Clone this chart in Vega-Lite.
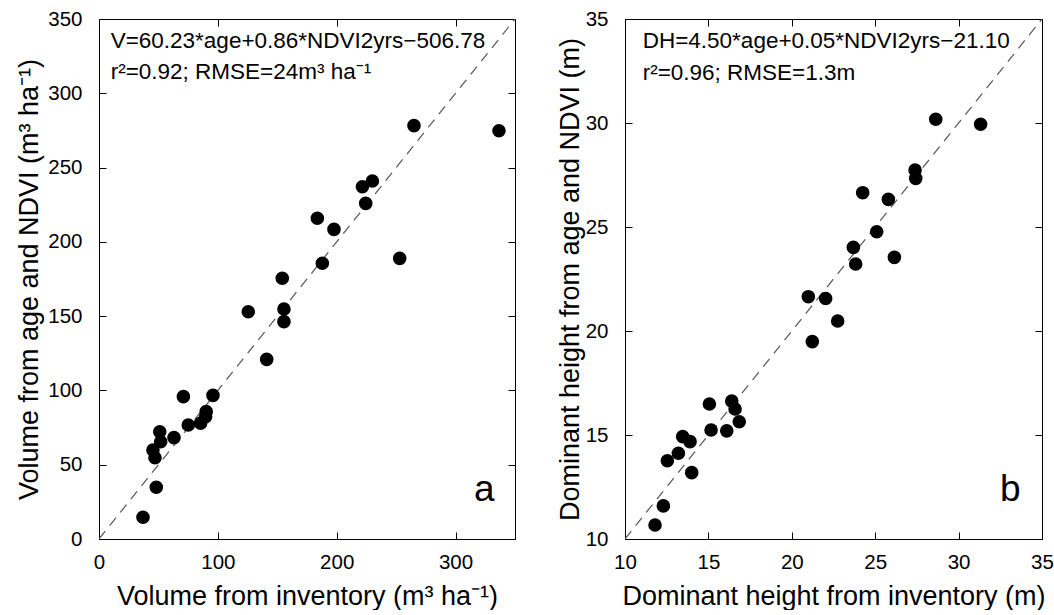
{
  "$schema": "https://vega.github.io/schema/vega-lite/v6.json",
  "padding": {"left": 14, "top": 8, "right": 0, "bottom": 0},
  "spacing": 39,
  "datasets": {
    "vol": [
      {"inv": 37.0, "pred": 14.6}, {"inv": 48.2, "pred": 34.8}, {"inv": 47.1, "pred": 54.7},
      {"inv": 45.4, "pred": 59.9}, {"inv": 51.9, "pred": 65.5}, {"inv": 51.1, "pred": 72.2},
      {"inv": 63.1, "pred": 68.2}, {"inv": 75.1, "pred": 76.7}, {"inv": 71.0, "pred": 95.8},
      {"inv": 85.5, "pred": 77.9}, {"inv": 89.7, "pred": 82.3}, {"inv": 90.2, "pred": 85.7},
      {"inv": 95.9, "pred": 96.7}, {"inv": 125.6, "pred": 153.0}, {"inv": 141.1, "pred": 120.9},
      {"inv": 155.6, "pred": 146.3}, {"inv": 155.6, "pred": 154.8}, {"inv": 154.2, "pred": 175.5},
      {"inv": 187.9, "pred": 185.6}, {"inv": 183.7, "pred": 215.9}, {"inv": 197.7, "pred": 208.4},
      {"inv": 224.4, "pred": 225.9}, {"inv": 221.6, "pred": 237.1}, {"inv": 230.0, "pred": 241.0},
      {"inv": 253.0, "pred": 188.9}, {"inv": 265.0, "pred": 278.2}, {"inv": 336.5, "pred": 274.8}
    ],
    "dh": [
      {"inv": 28.63, "pred": 30.18}, {"inv": 31.32, "pred": 29.94}, {"inv": 27.39, "pred": 27.74},
      {"inv": 27.43, "pred": 27.34}, {"inv": 24.25, "pred": 26.65}, {"inv": 25.79, "pred": 26.33},
      {"inv": 25.09, "pred": 24.77}, {"inv": 23.69, "pred": 24.02}, {"inv": 23.83, "pred": 23.22},
      {"inv": 26.15, "pred": 23.54}, {"inv": 20.99, "pred": 21.65}, {"inv": 22.03, "pred": 21.56},
      {"inv": 22.75, "pred": 20.48}, {"inv": 21.23, "pred": 19.49}, {"inv": 15.06, "pred": 16.49},
      {"inv": 16.40, "pred": 16.63}, {"inv": 16.60, "pred": 16.25}, {"inv": 16.85, "pred": 15.64},
      {"inv": 15.16, "pred": 15.24}, {"inv": 16.10, "pred": 15.20}, {"inv": 13.46, "pred": 14.92},
      {"inv": 13.90, "pred": 14.68}, {"inv": 13.20, "pred": 14.12}, {"inv": 12.54, "pred": 13.76},
      {"inv": 14.00, "pred": 13.19}, {"inv": 12.30, "pred": 11.59}, {"inv": 11.80, "pred": 10.67}
    ],
    "line1": [{"inv": 0, "pred": 0}, {"inv": 350, "pred": 350}],
    "line2": [{"inv": 10, "pred": 10}, {"inv": 35, "pred": 35}]
  },
  "hconcat": [
    {
      "width": 416,
      "height": 520,
      "resolve": {"axis": {"x": "independent", "y": "independent"}},
      "layer": [
        {
          "data": {"name": "line1"},
          "mark": {"type": "line", "strokeDash": [10, 7], "color": "#555555", "strokeWidth": 1.2, "clip": true},
          "encoding": {
            "x": {"field": "inv", "type": "quantitative", "scale": {"domain": [0, 350], "nice": false, "zero": false},
              "axis": {"title": "Volume from inventory (m³ ha⁻¹)", "values": [0, 100, 200, 300], "labelPadding": 20, "minExtent": 34, "maxExtent": 34, "titlePadding": 10}},
            "y": {"field": "pred", "type": "quantitative", "scale": {"domain": [0, 350], "nice": false, "zero": false},
              "axis": {"title": "Volume from age and NDVI (m³ ha⁻¹)", "values": [0, 50, 100, 150, 200, 250, 300, 350], "minExtent": 52, "maxExtent": 52, "titlePadding": 4}}
          }
        },
        {
          "data": {"name": "line1"},
          "mark": {"type": "line", "opacity": 0},
          "encoding": {
            "x": {"field": "inv", "type": "quantitative", "axis": {"orient": "top", "labels": false, "title": null, "values": [0, 100, 200, 300], "domain": false, "minExtent": 0, "maxExtent": 0}},
            "y": {"field": "pred", "type": "quantitative", "axis": {"orient": "right", "labels": false, "title": null, "values": [0, 50, 100, 150, 200, 250, 300, 350], "domain": false, "minExtent": 0, "maxExtent": 0}}
          }
        },
        {
          "data": {"name": "vol"},
          "mark": {"type": "circle", "size": 185, "color": "black", "opacity": 1},
          "encoding": {
            "x": {"field": "inv", "type": "quantitative", "axis": null},
            "y": {"field": "pred", "type": "quantitative", "axis": null}
          }
        },
        {
          "data": {"values": [{"t": "V=60.23*age+0.86*NDVI2yrs−506.78"}]},
          "mark": {"type": "text", "align": "left", "baseline": "alphabetic", "fontSize": 22.5, "color": "black"},
          "encoding": {"x": {"datum": 9.8, "type": "quantitative", "axis": null}, "y": {"datum": 330.5, "type": "quantitative", "axis": null}, "text": {"field": "t"}}
        },
        {
          "data": {"values": [{"t": "r²=0.92; RMSE=24m³ ha⁻¹"}]},
          "mark": {"type": "text", "align": "left", "baseline": "alphabetic", "fontSize": 22.5, "color": "black"},
          "encoding": {"x": {"datum": 9.8, "type": "quantitative", "axis": null}, "y": {"datum": 309.6, "type": "quantitative", "axis": null}, "text": {"field": "t"}}
        },
        {
          "data": {"values": [{"t": "a"}]},
          "mark": {"type": "text", "align": "left", "baseline": "alphabetic", "fontSize": 37, "color": "black"},
          "encoding": {"x": {"datum": 315.5, "type": "quantitative", "axis": null}, "y": {"datum": 25.8, "type": "quantitative", "axis": null}, "text": {"field": "t"}}
        }
      ]
    },
    {
      "width": 417,
      "height": 520,
      "resolve": {"axis": {"x": "independent", "y": "independent"}},
      "layer": [
        {
          "data": {"name": "line2"},
          "mark": {"type": "line", "strokeDash": [10, 7], "color": "#555555", "strokeWidth": 1.2, "clip": true},
          "encoding": {
            "x": {"field": "inv", "type": "quantitative", "scale": {"domain": [10, 35], "nice": false, "zero": false},
              "axis": {"title": "Dominant height from inventory (m)", "values": [10, 15, 20, 25, 30, 35], "labelPadding": 20, "minExtent": 34, "maxExtent": 34, "titlePadding": 10}},
            "y": {"field": "pred", "type": "quantitative", "scale": {"domain": [10, 35], "nice": false, "zero": false},
              "axis": {"title": "Dominant height from age and NDVI (m)", "values": [10, 15, 20, 25, 30, 35], "minExtent": 37, "maxExtent": 37, "titlePadding": 4}}
          }
        },
        {
          "data": {"name": "line2"},
          "mark": {"type": "line", "opacity": 0},
          "encoding": {
            "x": {"field": "inv", "type": "quantitative", "axis": {"orient": "top", "labels": false, "title": null, "values": [10, 15, 20, 25, 30, 35], "domain": false, "minExtent": 0, "maxExtent": 0}},
            "y": {"field": "pred", "type": "quantitative", "axis": {"orient": "right", "labels": false, "title": null, "values": [10, 15, 20, 25, 30, 35], "domain": false, "minExtent": 0, "maxExtent": 0}}
          }
        },
        {
          "data": {"name": "dh"},
          "mark": {"type": "circle", "size": 185, "color": "black", "opacity": 1},
          "encoding": {
            "x": {"field": "inv", "type": "quantitative", "axis": null},
            "y": {"field": "pred", "type": "quantitative", "axis": null}
          }
        },
        {
          "data": {"values": [{"t": "DH=4.50*age+0.05*NDVI2yrs−21.10"}]},
          "mark": {"type": "text", "align": "left", "baseline": "alphabetic", "fontSize": 22.5, "color": "black"},
          "encoding": {"x": {"datum": 11.06, "type": "quantitative", "axis": null}, "y": {"datum": 33.59, "type": "quantitative", "axis": null}, "text": {"field": "t"}}
        },
        {
          "data": {"values": [{"t": "r²=0.96; RMSE=1.3m"}]},
          "mark": {"type": "text", "align": "left", "baseline": "alphabetic", "fontSize": 22.5, "color": "black"},
          "encoding": {"x": {"datum": 11.06, "type": "quantitative", "axis": null}, "y": {"datum": 32.07, "type": "quantitative", "axis": null}, "text": {"field": "t"}}
        },
        {
          "data": {"values": [{"t": "b"}]},
          "mark": {"type": "text", "align": "left", "baseline": "alphabetic", "fontSize": 37, "color": "black"},
          "encoding": {"x": {"datum": 32.48, "type": "quantitative", "axis": null}, "y": {"datum": 11.83, "type": "quantitative", "axis": null}, "text": {"field": "t"}}
        }
      ]
    }
  ],
  "config": {
    "font": "Liberation Sans",
    "background": "white",
    "view": {"stroke": "black", "strokeWidth": 1},
    "axis": {
      "grid": false,
      "domainColor": "black",
      "tickColor": "black",
      "labelColor": "black",
      "titleColor": "black",
      "labelFontSize": 20.5,
      "titleFontSize": 27,
      "titleFontWeight": "normal",
      "tickSize": -7,
      "labelPadding": 24,
      "labelFlush": false,
      "labelOverlap": false
    }
  }
}
